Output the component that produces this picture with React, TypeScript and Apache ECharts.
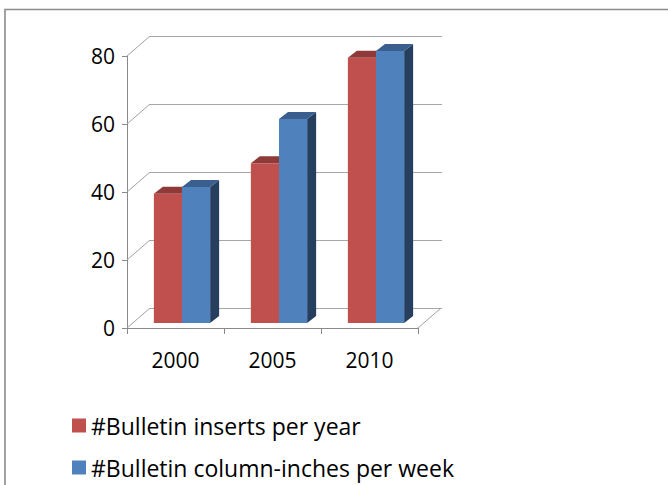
import React, { useEffect, useRef } from "react";
import * as echarts from "echarts";

const categories = ["2000", "2005", "2010"];
const insertsPerYear = [38, 47, 78];
const columnInchesPerWeek = [40, 60, 80];
const yTicks = [0, 20, 40, 60, 80];
const seriesNames = ["#Bulletin inserts per year", "#Bulletin column-inches per week"];

const FONT = "'Open Sans', Lato, sans-serif";
const WALL_DX = 23;
const WALL_DY = -20;
const BAR_DX = 6.5;
const BAR_DY = -5;
const DEPTH_DX = 9;
const DEPTH_DY = -7;

function makeBarRender(seriesIdx: number, front: string, top: string, side: string) {
  return (params: any, api: any) => {
    const idx = api.value(0);
    const val = api.value(1);
    const base = api.coord([idx, 0]);
    const peak = api.coord([idx, val]);
    const band = api.size([1, 0])[0];
    const w = band * 0.29;
    const x0 = base[0] + BAR_DX + (seriesIdx === 0 ? -w : 0);
    const x1 = x0 + w;
    const yb = base[1] + BAR_DY;
    const yt = peak[1] + BAR_DY;
    return {
      type: "group",
      children: [
        {
          type: "polygon",
          shape: { points: [[x1, yb], [x1 + DEPTH_DX, yb + DEPTH_DY], [x1 + DEPTH_DX, yt + DEPTH_DY], [x1, yt]] },
          style: { fill: side },
        },
        {
          type: "polygon",
          shape: { points: [[x0, yt], [x1, yt], [x1 + DEPTH_DX, yt + DEPTH_DY], [x0 + DEPTH_DX, yt + DEPTH_DY]] },
          style: { fill: top },
        },
        {
          type: "rect",
          shape: { x: x0, y: yt, width: w, height: yb - yt },
          style: { fill: front },
        },
      ],
    };
  };
}

function makeLegend(name: string, top: number) {
  return {
    data: [name],
    orient: "vertical",
    left: 72,
    top,
    padding: 0,
    itemWidth: 14,
    itemHeight: 14,
    itemGap: 0,
    icon: "rect",
    textStyle: { fontSize: 23, color: "#000", fontFamily: FONT },
  };
}

export default function App() {
  const ref = useRef<HTMLDivElement>(null);
  useEffect(() => {
    if (!ref.current) return;
    const chart = echarts.init(ref.current, undefined, { renderer: "svg" });
    const option: any = {
      animation: false,
      backgroundColor: "#ffffff",
      textStyle: { fontFamily: FONT },
      graphic: [
        {
          type: "rect",
          shape: { x: 5, y: 9.5, width: 720, height: 520 },
          style: { fill: "none", stroke: "#8c8c8c", lineWidth: 1.6 },
          silent: true,
          z: -1,
        },
      ],
      legend: [makeLegend(seriesNames[0], 414), makeLegend(seriesNames[1], 456)],
      grid: [
        { left: 127, top: 56, width: 291, height: 272 },
        { left: 127 + WALL_DX, top: 56 + WALL_DY, width: 292, height: 272 },
      ],
      xAxis: [
        {
          type: "category",
          gridIndex: 0,
          data: categories,
          boundaryGap: true,
          axisLine: { lineStyle: { color: "#8a8a8a", width: 1 } },
          axisTick: { show: true, length: 6, lineStyle: { color: "#8a8a8a" } },
          axisLabel: { fontSize: 21, color: "#000", margin: 21, fontFamily: FONT },
        },
        { type: "value", gridIndex: 1, show: false, min: 0, max: 1 },
      ],
      yAxis: [
        {
          type: "value",
          gridIndex: 0,
          min: 0,
          max: 80,
          interval: 20,
          axisLine: { show: true, lineStyle: { color: "#8a8a8a", width: 1 } },
          axisTick: { show: true, length: 5, lineStyle: { color: "#8a8a8a" } },
          splitLine: { show: false },
          axisLabel: { fontSize: 21, color: "#000", margin: 12, fontFamily: FONT },
        },
        {
          type: "value",
          gridIndex: 1,
          min: 0,
          max: 80,
          interval: 20,
          axisLine: { show: false },
          axisTick: { show: false },
          axisLabel: { show: false },
          splitLine: { show: true, lineStyle: { color: "#a6a6a6", width: 1 } },
        },
      ],
      series: [
        {
          type: "custom",
          name: "walls",
          xAxisIndex: 0,
          yAxisIndex: 0,
          silent: true,
          data: yTicks.map((v) => [0, v]),
          renderItem: (params: any, api: any) => {
            const cs = params.coordSys;
            const y = api.coord([0, api.value(1)])[1];
            const x = cs.x;
            const children: any[] = [
              {
                type: "line",
                shape: { x1: x, y1: y, x2: x + WALL_DX, y2: y + WALL_DY },
                style: { stroke: "#a0a0a0", lineWidth: 1 },
              },
            ];
            if (api.value(1) === 0) {
              children.push({
                type: "line",
                shape: { x1: x + cs.width, y1: y, x2: x + cs.width + WALL_DX, y2: y + WALL_DY },
                style: { stroke: "#a0a0a0", lineWidth: 1 },
              });
            }
            return { type: "group", children };
          },
          z: 1,
        },
        {
          type: "custom",
          name: seriesNames[0],
          xAxisIndex: 0,
          yAxisIndex: 0,
          itemStyle: { color: "#C0504D" },
          data: insertsPerYear.map((v, i) => [i, v]),
          renderItem: makeBarRender(0, "#C0504D", "#8E3A38", "#8E3A38"),
          z: 3,
        },
        {
          type: "custom",
          name: seriesNames[1],
          xAxisIndex: 0,
          yAxisIndex: 0,
          itemStyle: { color: "#4F81BD" },
          data: columnInchesPerWeek.map((v, i) => [i, v]),
          renderItem: makeBarRender(1, "#4F81BD", "#3A5F8E", "#273F5F"),
          z: 4,
        },
      ],
    };
    chart.setOption(option);
    return () => chart.dispose();
  }, []);
  return (
    <div
      ref={ref}
      style={{ position: "fixed", left: 0, top: 0, width: 668, height: 485 }}
    />
  );
}
